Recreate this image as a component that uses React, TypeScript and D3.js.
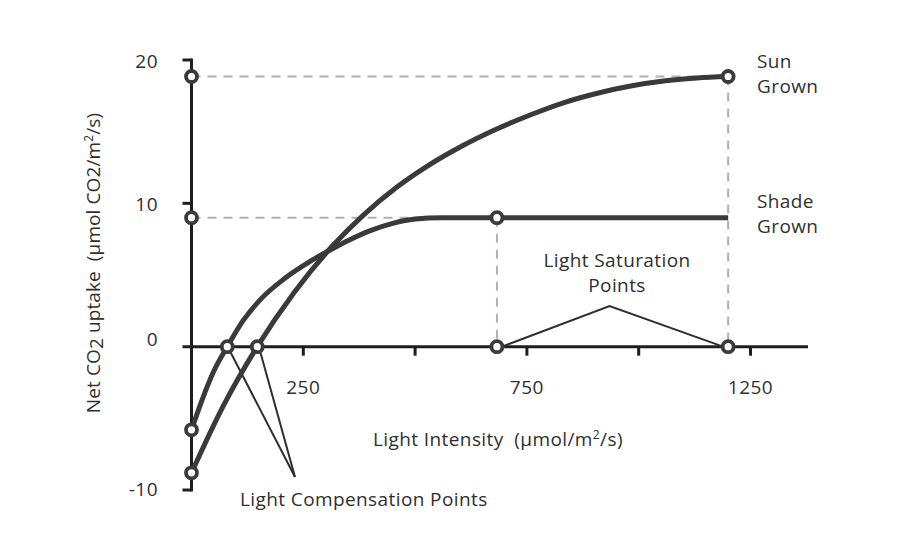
import React from "react";
import * as d3 from "d3";

const sunLight = [0, 70, 147, 230, 313, 385, 458, 530, 605, 680, 760, 835, 910, 985, 1060, 1130, 1200];
const sunUptake = [-8.8, -4.2, 0, 3.8, 6.95, 9.2, 11.1, 12.65, 14.0, 15.15, 16.2, 17.05, 17.7, 18.2, 18.55, 18.75, 18.85];
const shadeLight = [0, 25, 50, 80, 115, 156, 208, 268, 313, 353, 400, 450, 500, 560, 683];
const shadeUptake = [-5.8, -3.6, -1.7, 0, 1.8, 3.35, 4.75, 6.0, 6.8, 7.45, 8.1, 8.6, 8.9, 9, 9];
const shadePlateauEnd = 1200;

const compensationPoints = [80, 147];
const saturationPoints = [683, 1200];
const saturationValues = [9, 18.85];
const interceptValues = [-5.8, -8.8];

const xTicks = [250, 500, 750, 1000, 1250];
const xTickLabels = [250, 750, 1250];
const yTickLabels = [20, 10, 0, -10];
const yTickMarks = [20, 10, -10];

const FONT = "'Open Sans', 'Noto Sans', sans-serif";
const DARK = "#3a3a3a";
const TEXT = "#2f2f2f";
const GRAY = "#b0b0b0";

export default function App() {
  const x = d3.scaleLinear().domain([0, 1250]).range([191.5, 750.5]);
  const y = d3.scaleLinear().domain([-10, 20]).range([490, 60]);

  const line = d3
    .line<[number, number]>()
    .x((d) => x(d[0]))
    .y((d) => y(d[1]))
    .curve(d3.curveMonotoneX);

  const sunData: [number, number][] = sunLight.map((l, i) => [l, sunUptake[i]]);
  const shadeData: [number, number][] = shadeLight.map((l, i) => [l, shadeUptake[i]]);
  const shadeFlat: [number, number][] = [
    [saturationPoints[0], saturationValues[0]],
    [shadePlateauEnd, saturationValues[0]],
  ];

  const x0 = x(0);
  const yZero = y(0);

  const circles: [number, number][] = [
    [0, saturationValues[1]],
    [0, saturationValues[0]],
    [0, interceptValues[0]],
    [0, interceptValues[1]],
    [compensationPoints[0], 0],
    [compensationPoints[1], 0],
    [saturationPoints[0], saturationValues[0]],
    [saturationPoints[1], saturationValues[1]],
    [saturationPoints[0], 0],
    [saturationPoints[1], 0],
  ];

  const yLabelOffset = (t: number) => (t === 0 ? -1 : t === -10 ? 6 : 8);

  const apexX = x((saturationPoints[0] + saturationPoints[1]) / 2) - 3;
  const apexY = 306;
  const compConvX = 295;
  const compConvY = 477;

  return (
    <svg
      width={909}
      height={557}
      style={{ position: "absolute", left: 0, top: 0, background: "#fff" }}
      fontFamily={FONT}
    >
      <rect width={909} height={557} fill="#fff" />
      {/* dashed guides */}
      <g stroke={GRAY} strokeWidth={2} strokeDasharray="9,7" fill="none">
        <line x1={x0} x2={x(saturationPoints[1])} y1={y(saturationValues[1])} y2={y(saturationValues[1])} />
        <line x1={x0} x2={x(saturationPoints[0])} y1={y(saturationValues[0])} y2={y(saturationValues[0])} />
        <line x1={x(saturationPoints[0])} x2={x(saturationPoints[0])} y1={y(saturationValues[0])} y2={yZero} />
        <line x1={x(saturationPoints[1])} x2={x(saturationPoints[1])} y1={y(saturationValues[1])} y2={yZero} />
      </g>

      {/* axes */}
      <g stroke="#1e1e1e" strokeWidth={3} fill="none">
        <line x1={x0} x2={x0} y1={y(20) - 1.5} y2={y(-10) + 1.5} />
        {yTickMarks.map((t) => (
          <line key={t} x1={x0 - 9} x2={x0} y1={y(t)} y2={y(t)} />
        ))}
        <line x1={x0 - 9} x2={808} y1={yZero} y2={yZero} />
        {xTicks.map((t) => (
          <line key={t} x1={x(t)} x2={x(t)} y1={yZero} y2={yZero + 9} />
        ))}
      </g>

      {/* tick labels */}
      <g fill={TEXT} fontSize={19} letterSpacing={0.5}>
        {yTickLabels.map((t) => (
          <text key={t} x={158} y={y(t) + yLabelOffset(t)} textAnchor="end">
            {t}
          </text>
        ))}
        {xTickLabels.map((t) => (
          <text key={t} x={x(t)} y={394} textAnchor="middle">
            {t}
          </text>
        ))}
      </g>

      {/* axis titles */}
      <text x={498} y={446} textAnchor="middle" fill={TEXT} fontSize={19} letterSpacing={0.4}>
        Light Intensity{"\u00a0\u00a0"}(µmol/m<tspan dy={-7} fontSize={12}>2</tspan>
        <tspan dy={7}>/s)</tspan>
      </text>
      <text
        transform={`translate(100,263) rotate(-90)`}
        textAnchor="middle"
        fill={TEXT}
        fontSize={19}
        letterSpacing={0.1}
      >
        Net CO<tspan dy={3}>2</tspan>
        <tspan dy={-3}> uptake{"\u00a0\u00a0"}(µmol CO2/m</tspan>
        <tspan dy={-7} fontSize={12}>2</tspan>
        <tspan dy={7}>/s)</tspan>
      </text>

      {/* annotation lines */}
      <g stroke="#2e2e2e" strokeWidth={2} fill="none">
        <polyline
          points={`${x(saturationPoints[0]) + 5},${yZero} ${apexX},${apexY} ${x(saturationPoints[1]) - 5},${yZero}`}
        />
        <line x1={x(compensationPoints[0]) + 3} y1={yZero + 5} x2={compConvX} y2={compConvY} />
        <line x1={x(compensationPoints[1]) + 3} y1={yZero + 5} x2={compConvX} y2={compConvY} />
      </g>

      {/* curves */}
      <g stroke={DARK} strokeWidth={5} fill="none">
        <path d={line(sunData) || ""} strokeLinecap="round" />
        <path d={line(shadeData) || ""} strokeLinecap="round" />
        <path d={line(shadeFlat) || ""} strokeLinecap="butt" />
      </g>

      {/* circles */}
      <g fill="#fff" stroke={DARK} strokeWidth={3.8}>
        {circles.map((c, i) => (
          <circle key={i} cx={x(c[0])} cy={y(c[1])} r={5.5} />
        ))}
      </g>

      {/* labels */}
      <g fill={TEXT} fontSize={19} letterSpacing={0.4}>
        <text x={757} y={68}>Sun</text>
        <text x={757} y={93}>Grown</text>
        <text x={757} y={208}>Shade</text>
        <text x={757} y={233}>Grown</text>
        <text x={617} y={267} textAnchor="middle">Light Saturation</text>
        <text x={617} y={292} textAnchor="middle">Points</text>
        <text x={240} y={506}>Light Compensation Points</text>
      </g>
    </svg>
  );
}
